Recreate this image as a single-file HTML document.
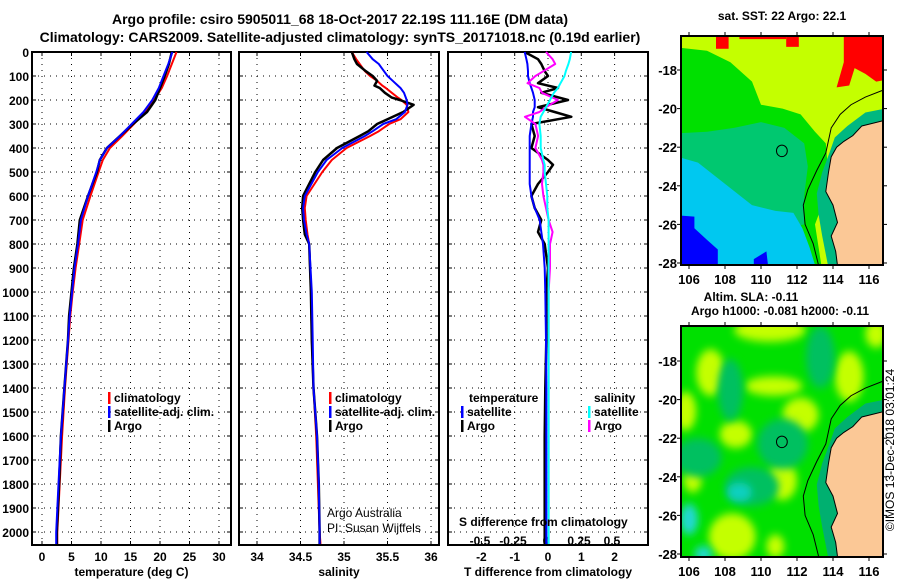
<!DOCTYPE html>
<html><head><meta charset="utf-8"><style>
body{margin:0;background:#fff}
svg{display:block;font-family:"Liberation Sans",Arial,sans-serif}
.b{font-weight:bold}
</style></head><body>
<svg id="svg" width="900" height="580" viewBox="0 0 900 580">
<defs>
<filter id="bl" x="-50%" y="-50%" width="200%" height="200%"><feGaussianBlur stdDeviation="0.22"/></filter>
<clipPath id="c1"><rect x="681" y="36" width="202" height="229"/></clipPath>
<clipPath id="c2"><rect x="681" y="326" width="202" height="231"/></clipPath>
</defs>
<text x="340" y="24" text-anchor="middle" class="b" font-size="14">Argo profile: csiro 5905011_68 18-Oct-2017 22.19S 111.16E (DM data)</text>
<text x="340" y="42" text-anchor="middle" class="b" font-size="14">Climatology: CARS2009. Satellite-adjusted climatology: synTS_20171018.nc (0.19d earlier)</text>
<g id="plots"></g>
<g id="maps"></g>
<text transform="translate(894,450) rotate(-90)" text-anchor="middle" font-size="12">©IMOS 13-Dec-2018 03:01:24</text>
</svg>
<script>
// ---- data ----
const depthT   = [0,50,100,150,200,250,300,350,400,450,500,600,700,800,900,1000,1100,1200,1400,1600,1800,2000,2050];
const tempArgo = [22.0,21.5,20.8,20.0,19.2,17.8,15.4,13.2,11.0,9.8,9.3,7.8,6.4,6.0,5.4,5.0,4.6,4.4,3.8,3.2,2.9,2.5,2.5];
const tempClim = [22.8,22.0,21.2,20.3,19.0,17.5,15.6,13.6,11.5,10.3,9.6,8.2,6.9,6.3,5.7,5.2,4.8,4.5,3.9,3.4,3.0,2.6,2.6];
const tempSat  = [22.1,21.4,20.6,19.8,18.7,17.2,15.2,13.2,11.0,9.8,9.2,7.8,6.6,6.1,5.5,5.1,4.7,4.4,3.8,3.2,2.8,2.4,2.4];
const depthS   = [0,30,50,80,100,120,140,150,170,190,200,220,250,280,300,330,350,400,450,500,600,650,700,760,800,1000,1200,1400,1600,1800,2000,2050];
const salArgo  = [35.09,35.12,35.15,35.25,35.33,35.38,35.35,35.41,35.47,35.55,35.64,35.80,35.68,35.50,35.38,35.28,35.18,34.92,34.76,34.67,34.53,34.52,34.53,34.55,34.60,34.62,34.63,34.65,34.69,34.71,34.72,34.72];
const salClim  = [35.09,35.14,35.18,35.24,35.30,35.38,35.44,35.48,35.55,35.62,35.66,35.72,35.74,35.65,35.52,35.40,35.30,35.03,34.86,34.75,34.57,34.55,34.56,34.58,34.60,34.62,34.63,34.65,34.68,34.70,34.72,34.73];
const salSat   = [35.26,35.33,35.40,35.46,35.50,35.56,35.62,35.65,35.69,35.71,35.72,35.73,35.70,35.60,35.45,35.33,35.24,34.98,34.80,34.70,34.55,34.53,34.54,34.57,34.60,34.63,34.64,34.65,34.69,34.71,34.72,34.72];
const depthD   = [0,30,50,80,100,130,150,170,200,230,250,270,300,350,400,450,470,500,550,600,650,700,750,800,900,1000,1200,1400,1600,1800,2000,2050];
const dTArgo   = [-0.7,-0.3,-0.2,-0.1,0.0,-0.3,0.3,-0.2,0.6,-0.3,0.2,0.7,-0.5,-0.4,-0.5,0.0,0.15,0.0,-0.3,-0.5,-0.4,-0.2,-0.3,-0.1,0.0,-0.05,-0.05,-0.08,-0.1,-0.1,-0.1,-0.1];
const dTSat    = [-0.7,-0.65,-0.62,-0.6,-0.6,-0.55,-0.5,-0.45,-0.4,-0.4,-0.45,-0.45,-0.5,-0.55,-0.55,-0.55,-0.55,-0.55,-0.55,-0.5,-0.4,-0.25,-0.2,-0.15,-0.1,-0.08,-0.06,-0.05,-0.05,-0.05,-0.05,-0.05];
const dSArgo   = [0.0,0.05,0.07,-0.02,-0.08,-0.14,-0.05,-0.03,0.09,0.0,-0.05,-0.16,-0.08,-0.06,-0.08,-0.03,-0.02,-0.02,-0.03,-0.02,0.0,0.02,0.05,0.03,0.03,0.02,0.02,0.02,0.02,0.02,0.02,0.02];
const dSSat    = [0.19,0.18,0.17,0.15,0.14,0.11,0.09,0.06,0.03,0.0,-0.02,-0.04,-0.05,-0.04,-0.04,-0.02,-0.01,-0.01,0.0,0.01,0.01,0.02,0.02,0.02,0.02,0.02,0.02,0.02,0.02,0.02,0.02,0.02];
const depthTicks = [0,100,200,300,400,500,600,700,800,900,1000,1100,1200,1300,1400,1500,1600,1700,1800,1900,2000];
const tempTicks = [0,5,10,15,20,25,30];
const salTicks  = [34,34.5,35,35.5,36];
const dTTicks   = [-2,-1,0,1,2];
const dSTicks   = [-0.5,-0.25,0,0.25,0.5];
const dSTickLabels = ["-0.5","-0.25","0","0.25","0.5"];

const NS="http://www.w3.org/2000/svg";
const G=document.getElementById('plots');
function el(tag,attrs,parent){const e=document.createElementNS(NS,tag);for(const k in attrs)e.setAttribute(k,attrs[k]);(parent||G).appendChild(e);return e;}
const yD = d => 52 + d*0.24;
const xT = t => 42 + t*5.9;
const xS = s => 257 + (s-34)*87;
const xDT = v => 548 + v*33.3;
const xDS = v => 546 + v*132;
const TOP=52, BOT=545;
const panels=[{x0:32,x1:231,name:'temperature-panel'},{x0:239,x1:439,name:'salinity-panel'},{x0:448,x1:648,name:'difference-panel'}];

panels.forEach((p,i)=>{
  const g=el('g',{});
  
  
  depthTicks.forEach(d=>{
    const l=el('line',{x1:p.x0,x2:p.x1,y1:yD(d),y2:yD(d),stroke:'#000','stroke-width':1,'stroke-dasharray':'1,5'},g);
    
    
    el('line',{x1:p.x0,x2:p.x0+4,y1:yD(d),y2:yD(d),stroke:'#000'},g);
    el('line',{x1:p.x1-4,x2:p.x1,y1:yD(d),y2:yD(d),stroke:'#000'},g);
  });
  const r=el('rect',{x:p.x0,y:TOP,width:p.x1-p.x0,height:BOT-TOP,fill:'none',stroke:'#000','stroke-width':2},g);
  
  
});
depthTicks.forEach(d=>{
  const t=el('text',{x:29,y:yD(d)+5,'text-anchor':'end','font-size':12,'font-weight':'bold'});
  t.textContent=d;
  
  
});
function vgrid(ticks,fx,lab,x0,x1,labels){
  ticks.forEach((v,i)=>{
    const x=fx(v);
    const l=el('line',{x1:x,x2:x,y1:TOP,y2:BOT,stroke:'#000','stroke-dasharray':'1,5'});
    
    
    el('line',{x1:x,x2:x,y1:BOT,y2:BOT-4,stroke:'#000'});
    el('line',{x1:x,x2:x,y1:TOP,y2:TOP+4,stroke:'#000'});
    const t=el('text',{x:x,y:561,'text-anchor':'middle','font-size':12,'font-weight':'bold'});
    t.textContent=labels?labels[i]:v;
    
    
  });
  const t=el('text',{x:(x0+x1)/2,y:576,'text-anchor':'middle','font-size':12,'font-weight':'bold'});
  t.textContent=lab;
  
  
}
vgrid(tempTicks,xT,'temperature (deg C)',32,231);
vgrid(salTicks,xS,'salinity',239,439);
vgrid(dTTicks,xDT,'T difference from climatology',448,648);
dSTicks.forEach((v,i)=>{
  const t=el('text',{x:xDS(v),y:545,'text-anchor':'middle','font-size':12,'font-weight':'bold'});
  t.textContent=dSTickLabels[i];
  
  
});
function series(xs,ds,fx,color,name,w){
  const pts=xs.map((v,i)=>fx(v).toFixed(1)+','+yD(ds[i]).toFixed(1)).join(' ');
  const l=el('polyline',{points:pts,fill:'none',stroke:color,'stroke-width':w||2,'stroke-linejoin':'round'});
  
  
}
series(tempClim,depthT,xT,'#ff0000','temp-climatology-line');
series(tempArgo,depthT,xT,'#000000','temp-argo-line',2.5);
series(tempSat,depthT,xT,'#0000ff','temp-satellite-line');
series(salClim,depthS,xS,'#ff0000','sal-climatology-line');
series(salArgo,depthS,xS,'#000000','sal-argo-line',2.5);
series(salSat,depthS,xS,'#0000ff','sal-satellite-line');
series(dTArgo,depthD,xDT,'#000000','tdiff-argo-line',2.5);
series(dTSat,depthD,xDT,'#0000ff','tdiff-satellite-line');
series(dSArgo,depthD,xDS,'#ff00ff','sdiff-argo-line');
series(dSSat,depthD,xDS,'#00ffff','sdiff-satellite-line');

function legend(x,y,color,label){
  const b=el('rect',{x:x,y:y-10,width:2.5,height:12,fill:color});
  
  
  const t=el('text',{x:x+6,y:y,'font-size':12,'font-weight':'bold'});
  t.textContent=label;
  
  
}
legend(108,402,'#ff0000','climatology');
legend(108,416,'#0000ff','satellite-adj. clim.');
legend(108,430,'#000000','Argo');
legend(329,402,'#ff0000','climatology');
legend(329,416,'#0000ff','satellite-adj. clim.');
legend(329,430,'#000000','Argo');
legend(461,416,'#0000ff','satellite');
legend(461,430,'#000000','Argo');
legend(588,416,'#00ffff','satellite');
legend(588,430,'#ff00ff','Argo');
[[469,402,'temperature','legend-temperature-heading'],[594,402,'salinity','legend-salinity-heading'],[459,526,'S difference from climatology','s-diff-axis-title']].forEach(a=>{
  const t=el('text',{x:a[0],y:a[1],'font-size':12,'font-weight':'bold'});
  t.textContent=a[2];
  
  
});
[[327,517,'Argo Australia','credit-argo-australia'],[327,532,'PI: Susan Wijffels','credit-pi']].forEach(a=>{
  const t=el('text',{x:a[0],y:a[1],'font-size':12});
  t.textContent=a[2];
  
  
});

// ---- maps ----
const M=document.getElementById('maps');
const lonTicks=[106,108,110,112,114,116];
const latTicks=[-18,-20,-22,-24,-26,-28];
const land='116.9,-20.6 115.6,-20.9 115.1,-21.4 114.6,-21.7 114.2,-22.0 113.9,-22.5 113.75,-23.3 113.6,-24.3 114.0,-25.0 114.25,-25.9 113.9,-26.6 114.15,-27.4 114.3,-28.5 116.9,-28.5';
const shelf='115.8,-20.2 114.8,-20.9 114.1,-21.5 113.8,-22.3 113.4,-23.3 113.1,-24.4 113.2,-25.5 113.4,-26.6 113.8,-28.5 114.3,-28.5 114.15,-27.4 113.9,-26.6 114.25,-25.9 114.0,-25.0 113.6,-24.3 113.75,-23.3 113.9,-22.5 114.2,-22.0 114.6,-21.7 115.1,-21.4 115.6,-20.9 116.9,-20.6 116.9,-20.0';
const contour='116.9,-19.0 115.8,-19.4 115.0,-19.8 114.4,-20.3 113.9,-21.0 113.6,-22.3 113.1,-23.2 112.6,-24.2 112.35,-25.0 112.45,-26.0 112.9,-27.0 113.3,-28.5';
function map(top,bot,y18,clip,name,sst){
  const s=19.3;
  const g=el('g',{'clip-path':'url(#'+clip+')'},M);
  
  
  const m=el('g',{transform:`matrix(18 0 0 ${-s} -1219 ${y18-18*s})`},g);
  if(sst){
    el('rect',{x:105,y:-29,width:12,height:14,fill:'#c4ff00'},m);
    el('polygon',{points:'105,-16.8 107,-17 108.3,-17.6 109.5,-18.6 110,-19.8 111.2,-20.0 112.2,-20.3 113,-21.2 113.6,-21.8 113.8,-24 113,-26 113.5,-29 105,-29',fill:'#00e000'},m);
    el('polygon',{points:'105,-21.3 107,-21.2 108.5,-21.0 110,-20.7 111.3,-21 112.4,-21.8 112.6,-23 112.4,-24.5 112.4,-26 111,-26.3 109,-25.6 107,-24.6 105,-23.8',fill:'#00c870'},m);
    el('polygon',{points:'105,-22.4 106.5,-22.8 108,-23.9 109.5,-25.0 110.8,-25.3 111.8,-25.4 112.3,-26.2 112.7,-27.2 113.3,-29 105,-29',fill:'#00c8f0'},m);
    el('polygon',{points:'105,-25.5 106.3,-25.6 106.3,-26.2 107,-26.8 107.6,-27.3 107.6,-29 105,-29',fill:'#0000ff'},m);
    el('polygon',{points:'109.6,-27.8 110.3,-27.4 110.5,-29 109.6,-29',fill:'#0000ff'},m);
    el('polygon',{points:'114.6,-15.5 117,-15.5 117,-18.5 116.4,-18.6 115.8,-18.2 115.2,-17.9 114.9,-18.8 114.2,-18.9 114.6,-17.6',fill:'#ff0000'},m);
    el('rect',{x:108.8,y:-16.4,width:2.6,height:0.6,fill:'#ff0000'},m);
    el('rect',{x:107.5,y:-16.9,width:0.7,height:0.8,fill:'#ff0000'},m);
    el('rect',{x:111.4,y:-16.8,width:0.7,height:0.6,fill:'#ff0000'},m);
  } else {
    el('rect',{x:105,y:-29,width:12,height:14,fill:'#00e000'},m);
    const blobs=[[107.2,-18.6,0.8,1.2,'#c4ff00'],[105.8,-20.6,0.6,1,'#c4ff00'],[112.2,-20.8,1,0.9,'#c4ff00'],[108.6,-21.8,0.9,0.7,'#c4ff00'],[111.2,-24.2,0.8,1,'#c4ff00'],[108.4,-27.1,1.3,1.2,'#c4ff00'],[114.9,-18.8,0.8,1.3,'#c4ff00'],[110.5,-16.4,2,0.6,'#c4ff00'],[110.7,-19.3,1.6,0.5,'#c4ff00'],[116.4,-16.6,0.6,0.7,'#c4ff00'],[110.8,-27.6,0.5,0.6,'#c4ff00'],[106.2,-24.2,0.5,0.6,'#c4ff00'],
      [108.3,-19.5,0.7,1.6,'#00c060'],[113.3,-17.8,0.8,1.6,'#00c060'],[111.2,-22.3,1.4,1.3,'#00c060'],[106.5,-23,1.3,1,'#00c060'],[109.5,-24.5,1.5,1,'#00c060'],[108.8,-24.8,0.7,0.5,'#10d0c0'],[106,-26.2,0.5,0.8,'#20d8d0'],[106.8,-28.0,0.5,0.4,'#20d8d0']];
    blobs.forEach(b=>el('ellipse',{cx:b[0],cy:b[1],rx:b[2],ry:b[3],fill:b[4],filter:'url(#bl)'},m));
  }
  el('polygon',{points:shelf,fill:sst?'#00b880':'#00b070'},m);
  el('polygon',{points:land,fill:'#fbc896',stroke:'#000','stroke-width':1,'vector-effect':'non-scaling-stroke'},m);
  el('polyline',{points:contour,fill:'none',stroke:'#000','stroke-width':1,'vector-effect':'non-scaling-stroke'},m);
  const c=el('circle',{cx:111.16,cy:-22.19,r:0.3,fill:'none',stroke:'#000','stroke-width':1,'vector-effect':'non-scaling-stroke'},m);
  
  
  const fr=el('rect',{x:681,y:top,width:202,height:bot-top,fill:'none',stroke:'#000','stroke-width':2},M);
  
  
  lonTicks.forEach(l=>{
    const x=18*l-1219;
    el('line',{x1:x,x2:x,y1:bot,y2:bot+4,stroke:'#000'},M);
    el('line',{x1:x,x2:x,y1:top,y2:top-4,stroke:'#000'},M);
    const t=el('text',{x:x,y:bot+19,'text-anchor':'middle','font-size':13,'font-weight':'bold'},M);
    t.textContent=l;
    
    
  });
  latTicks.forEach(l=>{
    const y=y18+(-l-18)*s;
    el('line',{x1:677,x2:681,y1:y,y2:y,stroke:'#000'},M);
    el('line',{x1:883,x2:887,y1:y,y2:y,stroke:'#000'},M);
    const t=el('text',{x:677,y:y+5,'text-anchor':'end','font-size':13,'font-weight':'bold'},M);
    t.textContent=l;
    
    
  });
}
map(36,265,70,'c1','sst-map',true);
map(326,557,361,'c2','sla-map',false);
[[782,20,'sat. SST: 22 Argo: 22.1','sst-map-title'],[751,301,'Altim. SLA: -0.11','sla-map-title'],[780,315,'Argo h1000: -0.081 h2000: -0.11','sla-map-subtitle']].forEach(a=>{
  const t=el('text',{x:a[0],y:a[1],'text-anchor':'middle','font-size':12,'font-weight':'bold'},M);
  t.textContent=a[2];
  
  
});
</script>
</body></html>
